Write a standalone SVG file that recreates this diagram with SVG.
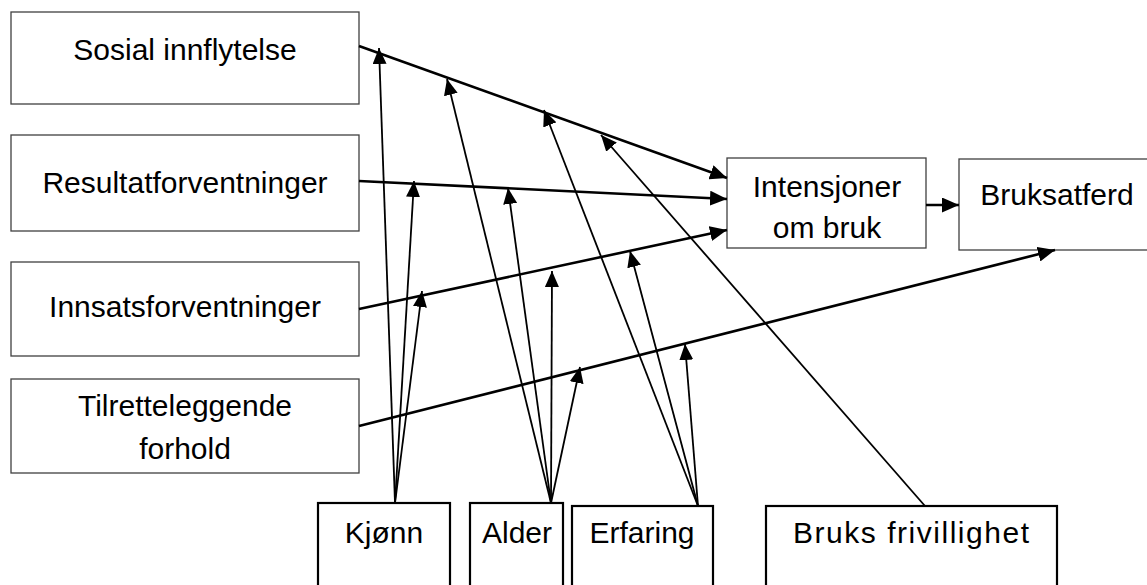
<svg xmlns="http://www.w3.org/2000/svg" width="1147" height="585" viewBox="0 0 1147 585">
  <style>
    .box { fill: #ffffff; stroke: #404040; stroke-width: 1.3; }
    .box2 { fill: #ffffff; stroke: #000000; stroke-width: 2.2; }
    .lbl { font-family: "Liberation Sans", Arial, sans-serif; font-size: 30px; fill: #000000; text-anchor: middle; }
    .main { stroke: #000000; stroke-width: 2.6; fill: none; marker-end: url(#headBig); }
    .mod { stroke: #000000; stroke-width: 1.8; fill: none; marker-end: url(#headSmall); }
  </style>
  <defs>
    <marker id="headBig" markerUnits="userSpaceOnUse" markerWidth="17" markerHeight="15" refX="17" refY="7.5" orient="auto">
      <path d="M0,0 L17,7.5 L0,15 z" fill="#000000"/>
    </marker>
    <marker id="headSmall" markerUnits="userSpaceOnUse" markerWidth="16" markerHeight="14" refX="16" refY="7" orient="auto">
      <path d="M0,0 L16,7 L0,14 z" fill="#000000"/>
    </marker>
  </defs>
  <rect width="1147" height="585" fill="#ffffff"/>

  <!-- predictor boxes -->
  <g id="node-sosial">
    <rect class="box" x="11" y="12" width="348" height="92"/>
    <text class="lbl" x="185" y="60">Sosial innflytelse</text>
  </g>
  <g id="node-resultat">
    <rect class="box" x="11" y="135" width="348" height="96"/>
    <text class="lbl" x="185" y="193">Resultatforventninger</text>
  </g>
  <g id="node-innsats">
    <rect class="box" x="11" y="262" width="348" height="94"/>
    <text class="lbl" x="185" y="317">Innsatsforventninger</text>
  </g>
  <g id="node-tilrett">
    <rect class="box" x="11" y="379" width="348" height="94"/>
    <text class="lbl" x="185" y="416">Tilretteleggende</text>
    <text class="lbl" x="185" y="459">forhold</text>
  </g>

  <!-- outcome boxes -->
  <g id="node-intensjoner">
    <rect class="box" x="727" y="158" width="199" height="90"/>
    <text class="lbl" x="827" y="197">Intensjoner</text>
    <text class="lbl" x="827" y="238">om bruk</text>
  </g>
  <g id="node-bruksatferd">
    <rect class="box" x="959" y="159" width="200" height="91"/>
    <text class="lbl" x="1057" y="205">Bruksatferd</text>
  </g>

  <!-- moderator boxes -->
  <g id="node-kjonn">
    <rect class="box2" x="318" y="503" width="132" height="100"/>
    <text class="lbl" x="384" y="543">Kjønn</text>
  </g>
  <g id="node-alder">
    <rect class="box2" x="470" y="503" width="93" height="100"/>
    <text class="lbl" x="517" y="543">Alder</text>
  </g>
  <g id="node-erfaring">
    <rect class="box2" x="572" y="506" width="141" height="100"/>
    <text class="lbl" x="642" y="543">Erfaring</text>
  </g>
  <g id="node-frivillighet">
    <rect class="box2" x="766" y="506" width="291" height="100"/>
    <text class="lbl" x="911" y="543" textLength="236" lengthAdjust="spacing">Bruks frivillighet</text>
  </g>

  <!-- connectors -->
  <g id="connectors">
    <line class="main" x1="359" y1="46" x2="727" y2="178"/>
    <line class="main" x1="359" y1="181" x2="727" y2="199"/>
    <line class="main" x1="359" y1="309" x2="727" y2="230"/>
    <line class="main" x1="926" y1="205" x2="959" y2="205"/>
    <line class="main" x1="359" y1="426" x2="1055" y2="250"/>

    <line class="mod" x1="395" y1="503" x2="379" y2="48"/>
    <line class="mod" x1="395" y1="503" x2="414" y2="181"/>
    <line class="mod" x1="395" y1="503" x2="422" y2="291"/>

    <line class="mod" x1="551" y1="503" x2="447" y2="79"/>
    <line class="mod" x1="551" y1="503" x2="508" y2="188"/>
    <line class="mod" x1="551" y1="503" x2="552" y2="271"/>
    <line class="mod" x1="551" y1="503" x2="580" y2="367"/>

    <line class="mod" x1="698" y1="506" x2="544" y2="110"/>
    <line class="mod" x1="698" y1="506" x2="630" y2="251"/>
    <line class="mod" x1="698" y1="506" x2="685" y2="344"/>

    <line class="mod" x1="925" y1="506" x2="601" y2="135"/>
  </g>
</svg>
